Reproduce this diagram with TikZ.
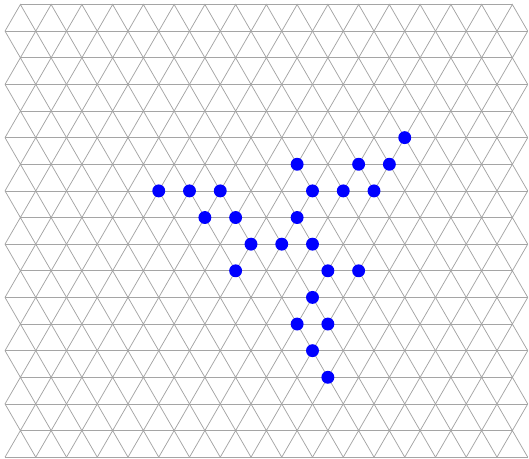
\documentclass[tikz,border=0pt]{standalone}
\usepackage{tikz}
\usetikzlibrary{positioning}

\definecolor{gridgray}{RGB}{165,165,165}

\begin{document}
\begin{tikzpicture}[x=1cm, y=0.8660cm,
  grid/.style={draw=gridgray, line width=0.7pt},
  dot/.style={circle, fill=blue, inner sep=0pt, minimum size=0.42cm}]

\useasboundingbox (-0.163,-0.038) rectangle (17.041,17.169);

% horizontal lines
\foreach \r in {0,2,...,16} {
  \draw[grid] (0,\r) -- (17,\r);
}
\foreach \r in {1,3,...,17} {
  \draw[grid] (0.5,\r) -- (16.5,\r);
}

% slanted lines
\foreach \r in {1,3,...,17} {
  \foreach \j in {0,...,16} {
    \draw[grid] (\j,\r-1) -- (\j+0.5,\r) -- (\j+1,\r-1);
  }
}
\foreach \r in {1,3,...,15} {
  \foreach \j in {0,...,16} {
    \draw[grid] (\j,\r+1) -- (\j+0.5,\r) -- (\j+1,\r+1);
  }
}

% points
\node[dot] (a1) at (13,12) {};

\node[dot] (b1) at (9.5,11) {};
\node[dot] (b2) at (11.5,11) {};
\node[dot] (b3) at (12.5,11) {};

\node[dot] (c1) at (5,10) {};
\node[dot] (c2) at (6,10) {};
\node[dot] (c3) at (7,10) {};
\node[dot] (c4) at (10,10) {};
\node[dot] (c5) at (11,10) {};
\node[dot] (c6) at (12,10) {};

\node[dot] (d1) at (6.5,9) {};
\node[dot] (d2) at (7.5,9) {};
\node[dot] (d3) at (9.5,9) {};

\node[dot] (e1) at (8,8) {};
\node[dot] (e2) at (9,8) {};
\node[dot] (e3) at (10,8) {};

\node[dot] (f1) at (7.5,7) {};
\node[dot] (f2) at (10.5,7) {};
\node[dot] (f3) at (11.5,7) {};

\node[dot] (g1) at (10,6) {};

\node[dot] (h1) at (9.5,5) {};
\node[dot] (h2) at (10.5,5) {};

\node[dot] (i1) at (10,4) {};

\node[dot] (k1) at (10.5,3) {};
\end{tikzpicture}
\end{document}
